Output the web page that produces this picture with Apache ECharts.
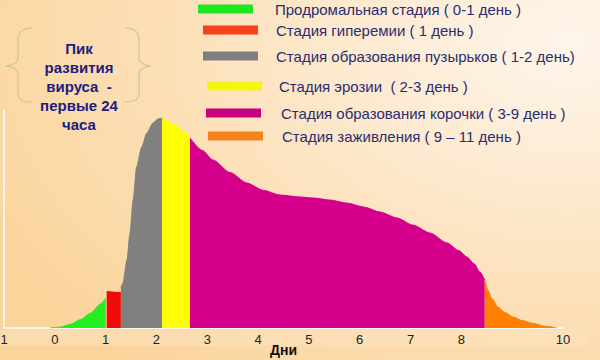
<!DOCTYPE html>
<html>
<head>
<meta charset="utf-8">
<script src="https://cdn.jsdelivr.net/npm/echarts@6/dist/echarts.min.js"></script>
<style>
html,body{margin:0;padding:0;}
#chart{width:600px;height:360px;background:radial-gradient(ellipse 110% 120% at 95% 12%, #fef5ea 0%, #fdebd3 30%, #fce0b8 60%, #fbd49c 100%);}
</style>
</head>
<body>
<div id="chart"></div>
<script>
// Tick labels (the reference shows "1" at -1 and nothing at 9)
const tickLabels = ["1","0","1","2","3","4","5","6","7","8","","10"];

const stageNames = [
  "Продромальная стадия ( 0-1 день )",
  "Стадия гиперемии ( 1 день )",
  "Стадия образования пузырьков ( 1-2 день)",
  "Стадия эрозии  ( 2-3 день )",
  "Стадия образования корочки ( 3-9 день )",
  "Стадия заживления ( 9 – 11 день )"
];

// [day, intensity] points of each stage
const prodromal = [[-0.1,0],[0.1,0.4],[0.3,1.6],[0.5,3.8],[0.7,6.8],[0.9,11.0],[1.0,13.8]];
const hyperemia = [[1.02,16.7],[1.30,16.2]];
const vesicle = [[1.30,18.6],[1.34,20.5],[1.42,31.2],[1.48,43.6],[1.54,58.7],[1.61,73.9],[1.71,83.0],[1.81,89.4],[1.93,94.0],[2.03,95.9],[2.11,96.3]];
const erosion = [[2.11,96.3],[2.36,93.4],[2.55,90.0],[2.66,87.2]];
const crust = [[2.66,87.2],[2.9,81.5],[3.11,77.1],[3.45,71.3],[3.78,66.5],[4.1,63.2],[4.43,61.0],[4.82,60.1],[5.1,59.6],[5.41,58.7],[5.75,57.3],[6.08,55.5],[6.40,53.2],[6.73,50.5],[7.05,47.2],[7.38,43.6],[7.72,39.0],[7.95,35.5],[8.11,32.6],[8.25,29.5],[8.36,25.8],[8.46,22.0]];
const healing = [[8.46,22.0],[8.52,17.5],[8.6,13.5],[8.72,9.6],[8.85,7.2],[9.02,5.0],[9.2,3.4],[9.41,2.1],[9.65,0.8],[9.88,0]];

const stageData = [prodromal, hyperemia, vesicle, erosion, crust, healing];
const stageColors = ["#22ee22","#f20a0a","#808080","#ffff00","#d4008c","#ff8000"];
const legendColors = ["#20e620","#f5421c","#7f7f7f","#f5f512","#c8007f","#f5841f"];

const legendPos = [
  {left:198, cy:9, gap:22},
  {left:203, cy:30, gap:18},
  {left:203, cy:56, gap:18},
  {left:207, cy:86, gap:17},
  {left:206, cy:113, gap:20},
  {left:208, cy:136, gap:19}
];

const chart = echarts.init(document.getElementById('chart'), null, {renderer: 'svg'});

const series = stageData.map((d, i) => ({
  name: stageNames[i],
  type: 'line',
  data: d,
  smooth: i === 1 ? false : 0.25,
  smoothMonotone: 'x',
  showSymbol: false,
  symbol: 'none',
  lineStyle: {width: 1, color: stageColors[i]},
  itemStyle: {color: stageColors[i]},
  areaStyle: {color: stageColors[i], opacity: 1},
  silent: true,
  z: 2
}));

const legends = stageNames.map((n, i) => ({
  show: true,
  left: legendPos[i].left,
  top: legendPos[i].cy - 9,
  padding: 0,
  icon: 'rect',
  itemWidth: 55,
  itemHeight: 9,
  data: [{name: n, itemStyle: {color: legendColors[i]}}],
  textStyle: {
    color: '#2b2d6e',
    fontSize: 15,
    lineHeight: 18,
    fontFamily: 'Liberation Sans, Arial, sans-serif',
    padding: [0, 0, 0, legendPos[i].gap - 5]
  },
  selectedMode: false
}));

const annotation = "Пик\nразвития\nвируса  -\nпервые 24\nчаса";

// curly brace decoration built from bezier curves and lines
function brace(xo, dir) {
  const X = v => xo + dir * v;
  const st = {stroke: '#d7cb8e', lineWidth: 1.5, fill: 'none'};
  const bz = (x1,y1,c1x,c1y,c2x,c2y,x2,y2) => ({type:'bezierCurve', silent:true, shape:{x1:X(x1),y1:y1,cpx1:X(c1x),cpy1:c1y,cpx2:X(c2x),cpy2:c2y,x2:X(x2),y2:y2}, style: st});
  const ln = (x1,y1,x2,y2) => ({type:'line', silent:true, shape:{x1:X(x1),y1:y1,x2:X(x2),y2:y2}, style: st});
  return [
    bz(0,28, -10,28, -14,32, -14,40),
    ln(-14,40, -14,58),
    bz(-14,58, -14,63, -18,65, -26,66),
    bz(-26,66, -18,67, -14,69, -14,74),
    ln(-14,74, -14,92),
    bz(-14,92, -14,100, -10,102, 0,102)
  ];
}

chart.setOption({
  animation: false,
  backgroundColor: 'transparent',
  grid: {left: 4, right: 37, top: 110, bottom: 32, containLabel: false, outerBoundsMode: 'none'},
  legend: legends,
  xAxis: {
    type: 'value',
    min: -1, max: 10, interval: 1,
    name: 'Дни',
    nameLocation: 'middle',
    nameGap: 15,
    nameMoveOverlap: false,
    nameTextStyle: {color: '#111', fontSize: 14, fontWeight: 'bold', fontFamily: 'Liberation Sans, Arial, sans-serif'},
    axisLine: {show: true, onZero: false, lineStyle: {color: '#ffffff', width: 1.5}},
    axisTick: {show: false},
    splitLine: {show: false},
    axisLabel: {
      color: '#222', fontSize: 13, margin: 5,
      fontFamily: 'Liberation Sans, Arial, sans-serif',
      formatter: v => tickLabels[Math.round(v) + 1] ?? ''
    }
  },
  yAxis: {
    type: 'value', min: 0, max: 100,
    axisLine: {show: true, onZero: false, lineStyle: {color: '#ffffff', width: 1.5}},
    axisTick: {show: false},
    axisLabel: {show: false},
    splitLine: {show: false}
  },
  graphic: [
    {type: 'rect', z: -1, silent: true, shape: {x: 0, y: 330, width: 590, height: 16}, style: {fill: 'rgba(252,226,190,0.55)'}},
    ...brace(32, 1),
    ...brace(125, -1),
    {type: 'text', silent: true, x: 79, y: 39, style: {text: annotation, align: 'center', verticalAlign: 'top', fill: '#1d2080', font: 'bold 15px "Liberation Sans", Arial, sans-serif', lineHeight: 19}}
  ],
  series: series
});
</script>
</body>
</html>
